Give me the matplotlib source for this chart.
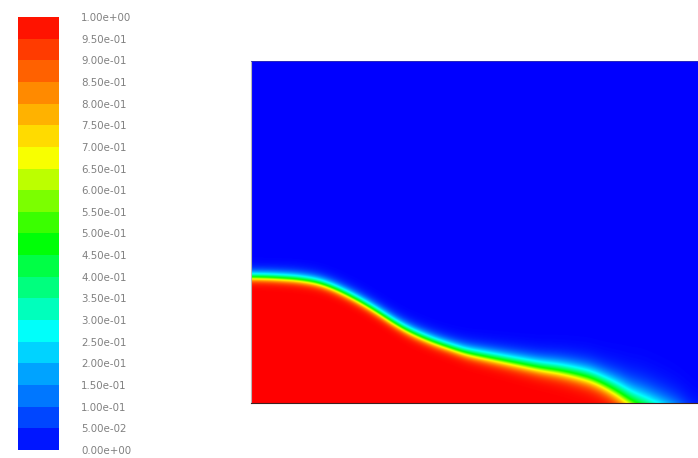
import numpy as np
import matplotlib
matplotlib.use('Agg')
import matplotlib.pyplot as plt
from matplotlib.colors import LinearSegmentedColormap, ListedColormap, BoundaryNorm
from matplotlib.cm import ScalarMappable

# contour levels of the water volume fraction
levels = np.linspace(0.0, 1.0, 21)
level_labels = ['%.2e' % v for v in levels]

# free surface (alpha = 0.5) position along the tank, metres
surf_x = [0.00, 0.04, 0.09, 0.13, 0.16, 0.19, 0.22, 0.25, 0.28, 0.31, 0.34, 0.37, 0.40, 0.43,
          0.47, 0.50, 0.54, 0.58, 0.61, 0.64, 0.68, 0.71, 0.74, 0.76, 0.80, 0.83, 0.86, 0.90]
surf_h = [0.252, 0.251, 0.248, 0.242, 0.232, 0.218, 0.202, 0.184, 0.164, 0.146, 0.132, 0.120, 0.110, 0.100,
          0.092, 0.086, 0.078, 0.070, 0.066, 0.060, 0.050, 0.036, 0.019, 0.004, -0.014, -0.028, -0.044, -0.085]

# thickness of the smeared interface
mix_x = [0.00, 0.40, 0.58, 0.71, 0.78, 0.90]
mix_w = [0.010, 0.012, 0.017, 0.022, 0.030, 0.030]

x_len, y_len = 0.894, 0.684

# Fluent-style rainbow
anchors = [(0.0, (0, 0, 1)), (0.27, (0, 1, 1)), (0.48, (0, 1, 0)),
           (0.68, (1, 1, 0)), (1.0, (1, 0, 0))]
rainbow = LinearSegmentedColormap.from_list('fluent', anchors)
band_cmap = ListedColormap([rainbow(c) for c in (levels[:-1] + levels[1:]) / 2])


def smooth(v, n):
    k = np.exp(-0.5 * (np.arange(-3 * n, 3 * n + 1) / n) ** 2)
    k /= k.sum()
    vp = np.pad(v, 3 * n, mode='edge')
    return np.convolve(vp, k, mode='valid')


# volume fraction field
xs = np.linspace(0, x_len, 900)
ys = np.linspace(0, y_len, 700)
h = smooth(np.interp(xs, surf_x, surf_h), 12)
w = smooth(np.interp(xs, mix_x, mix_w), 12)
X, Y = np.meshgrid(xs, ys)
H2 = np.broadcast_to(h, X.shape)
W2 = np.broadcast_to(w, X.shape)
d = H2 - Y
W2 = np.where(d < 0, 1.4 * W2, W2)
alpha = 0.5 * (1 + np.tanh(d / W2))

W, H = 698, 458
fig = plt.figure(figsize=(W / 100, H / 100), dpi=100)
fig.patch.set_facecolor('white')

ax = fig.add_axes([251 / W, 1 - 403 / H, (698 - 251) / W, (403 - 61) / H])
ax.imshow(alpha, cmap=rainbow, vmin=0, vmax=1, origin='lower',
          extent=[0, x_len, 0, y_len], aspect='auto', interpolation='bilinear')
ax.set_xlim(0, x_len)
ax.set_ylim(0, y_len)
ax.set_xticks([])
ax.set_yticks([])
ax.spines['right'].set_visible(False)
ax.spines['top'].set_color('#3030b0')
ax.spines['top'].set_linewidth(0.6)
ax.spines['left'].set_color('#b8b8b8')
ax.spines['left'].set_linewidth(0.8)
ax.spines['bottom'].set_color('#402020')
ax.spines['bottom'].set_linewidth(0.8)

cax = fig.add_axes([18 / W, 1 - 450 / H, 41 / W, 433 / H])
sm = ScalarMappable(norm=BoundaryNorm(levels, band_cmap.N), cmap=band_cmap)
cb = fig.colorbar(sm, cax=cax, ticks=levels)
cb.outline.set_visible(False)
cb.ax.set_yticklabels(level_labels)
cb.ax.tick_params(length=0, pad=16, labelsize=7.4, labelcolor='#808080')

fig.savefig('out.png', dpi=100)
